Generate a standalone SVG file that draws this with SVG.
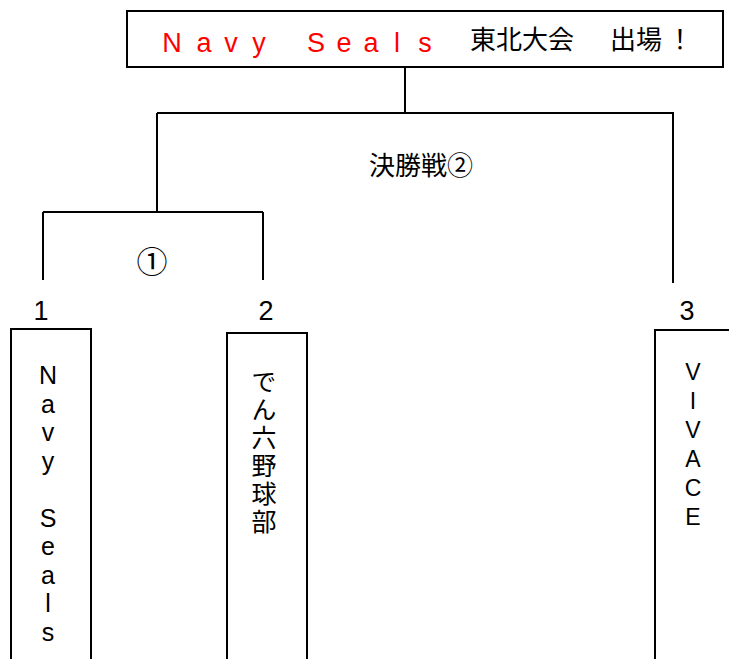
<svg xmlns="http://www.w3.org/2000/svg" width="729" height="659" viewBox="0 0 729 659">
<style>
.box{fill:#fff;stroke:#000;stroke-width:2}
.ln{stroke:#000;stroke-width:2;fill:none}
.t{font-family:"Liberation Sans","Noto Sans CJK JP",sans-serif;fill:#000;text-anchor:middle}
.j{font-family:"Noto Sans CJK JP",sans-serif;fill:#000;text-anchor:middle}
</style>
<rect width="729" height="659" fill="#fff"/>
<g id="connectors">
<path class="ln" d="M405,67 V113 M157,113 H673 V283 M157,113 V212 M43,212 H263 M43,212 V280 M263,212 V280"/>
</g>
<g id="title">
<rect class="box" x="127" y="11" width="596" height="56"/>
<text class="t" font-size="27" style="fill:#f00" y="52" x="172 204 231 259 287 316 344 371 397 425">Navy Seals</text>
<text class="j" font-size="26" y="49" x="483 509 535 561 623 649 680">東北大会出場！</text>
</g>
<g id="label-final">
<text class="j" font-size="26" x="421" y="175">決勝戦②</text>
</g>
<g id="label-1">
<text class="j" font-size="31" x="152" y="273">①</text>
</g>
<g id="team1">
<text class="t" font-size="27" x="41" y="320">1</text>
<rect class="box" x="11" y="329" width="80" height="340"/>
<text class="t" font-size="25" x="48" y="384">N<tspan x="48" dy="29">a</tspan><tspan x="48" dy="28">v</tspan><tspan x="48" dy="29">y</tspan><tspan x="48" dy="57">S</tspan><tspan x="48" dy="28">e</tspan><tspan x="48" dy="29">a</tspan><tspan x="48" dy="28">l</tspan><tspan x="48" dy="29">s</tspan></text>
</g>
<g id="team2">
<text class="t" font-size="27" x="266" y="320">2</text>
<rect class="box" x="227" y="333" width="80" height="340"/>
<text font-family="'Noto Sans CJK JP',sans-serif" font-size="25" letter-spacing="3" writing-mode="vertical-rl" x="264" y="369">でん六野球部</text>
</g>
<g id="team3">
<text class="t" font-size="27" x="687" y="320">3</text>
<rect class="box" x="655" y="330" width="90" height="340"/>
<text class="t" font-size="23" x="693" y="380">V<tspan x="693" dy="29">I</tspan><tspan x="693" dy="29">V</tspan><tspan x="693" dy="29">A</tspan><tspan x="693" dy="29">C</tspan><tspan x="693" dy="29">E</tspan></text>
</g>
</svg>
